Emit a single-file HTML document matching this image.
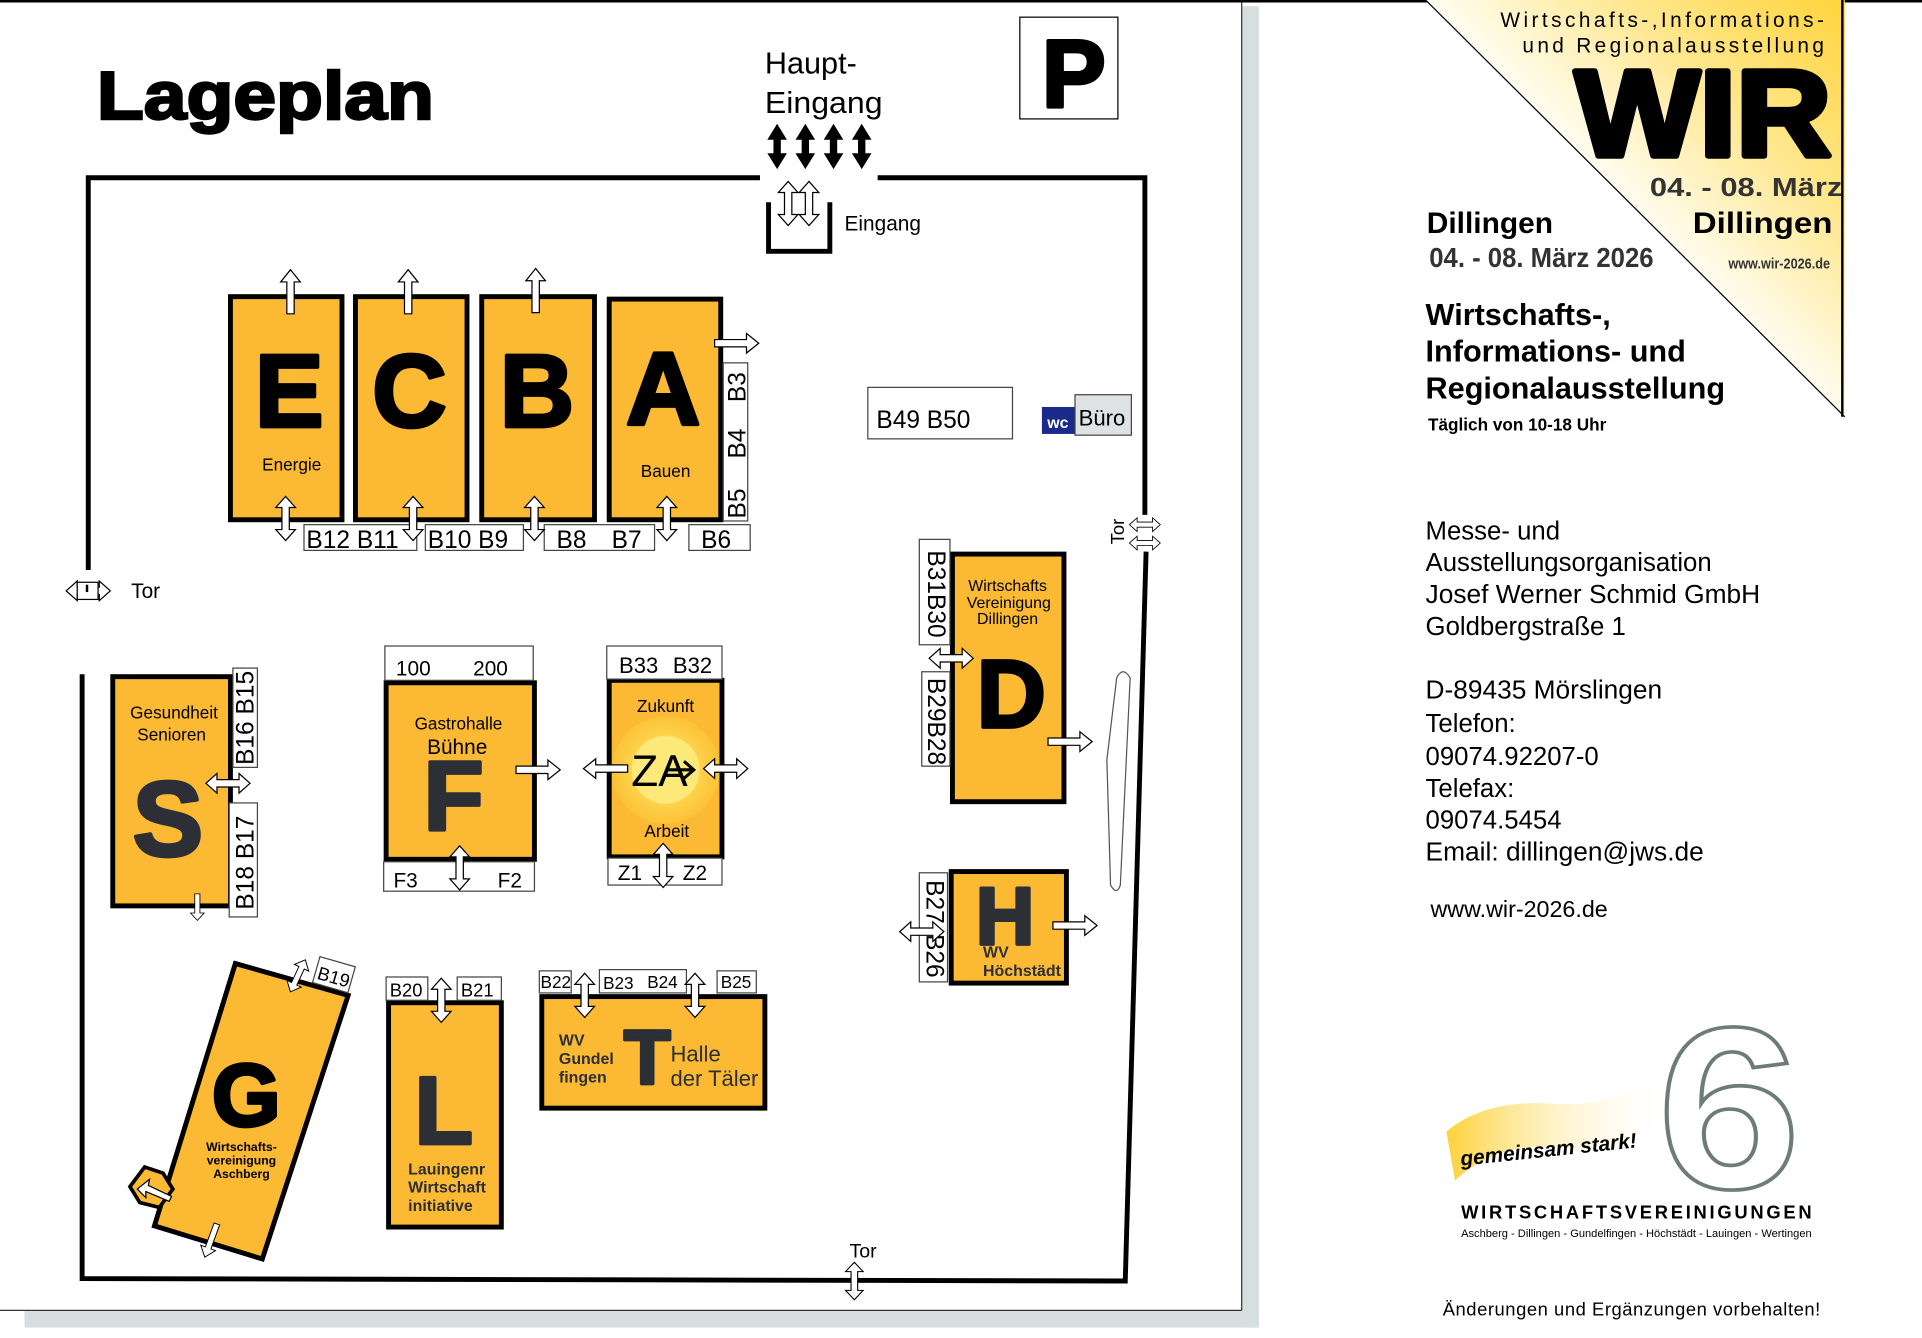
<!DOCTYPE html>
<html><head><meta charset="utf-8"><style>
html,body{margin:0;padding:0;background:#fff;}
svg{display:block;}
text{font-family:"Liberation Sans",Arial,sans-serif;}
.big{stroke-width:3;stroke-linejoin:round;}
</style></head><body>
<svg width="1922" height="1338" viewBox="0 0 1568 1091.5" preserveAspectRatio="none" xmlns="http://www.w3.org/2000/svg">
<defs>
<polygon id="ud" points="0,-18 -8,-9 -3,-9 -3,9 -8,9 0,18 8,9 3,9 3,-9 8,-9" fill="#fff" stroke="#000" stroke-width="1"/>
<polygon id="up" points="0,-18 -8,-8 -3,-8 -3,18 3,18 3,-8 8,-8" fill="#fff" stroke="#000" stroke-width="1"/>
<linearGradient id="tri" x1="1334" y1="170" x2="1505" y2="0" gradientUnits="userSpaceOnUse">
<stop offset="0" stop-color="#fffdf0"/><stop offset="0.5" stop-color="#ffe68a"/><stop offset="1" stop-color="#ffd43c"/></linearGradient>
<linearGradient id="flag" x1="0" y1="0" x2="1" y2="0">
<stop offset="0" stop-color="#fdd23a"/><stop offset="1" stop-color="#fff" stop-opacity="0.2"/></linearGradient>
<radialGradient id="za"><stop offset="0.62" stop-color="#fde87a"/><stop offset="0.64" stop-color="#fdd24a"/><stop offset="1" stop-color="#fcc238"/></radialGradient>
</defs>
<rect width="1568" height="1092" fill="#fff"/>
<rect x="1013" y="5" width="14" height="1078" fill="#d6dede"/>
<rect x="20" y="1069" width="1007" height="14" fill="#d6dede"/>
<line x1="1013" y1="0" x2="1013" y2="1069" stroke="#333" stroke-width="1"/>
<line x1="0" y1="1069" x2="1013" y2="1069" stroke="#333" stroke-width="1"/>
<line x1="0" y1="1" x2="1568" y2="1" stroke="#000" stroke-width="2"/>

<text x="79" y="97" font-size="55" font-weight="bold" stroke="#000" stroke-width="2" textLength="275" lengthAdjust="spacingAndGlyphs">Lageplan</text>
<text x="624" y="60" font-size="25">Haupt-</text>
<text x="624" y="92" font-size="25" textLength="96" lengthAdjust="spacingAndGlyphs">Eingang</text>
<g fill="#000">
<polygon points="634,101 626,114 631,114 631,125 626,125 634,138 642,125 637,125 637,114 642,114"/>
<polygon points="657,101 649,114 654,114 654,125 649,125 657,138 665,125 660,125 660,114 665,114"/>
<polygon points="680,101 672,114 677,114 677,125 672,125 680,138 688,125 683,125 683,114 688,114"/>
<polygon points="703,101 695,114 700,114 700,125 695,125 703,138 711,125 706,125 706,114 711,114"/>
</g>
<rect x="832" y="14" width="80" height="83" fill="#fff" stroke="#000" stroke-width="1"/>
<text x="876" y="87" font-size="78" font-weight="bold" text-anchor="middle" stroke="#000" class="big">P</text>

<g stroke="#000" stroke-width="4" fill="none">
<polyline points="620,145 72,145 72,465"/>
<polyline points="716,145 934,145 934,420"/>
<polyline points="935,450 918,1045 67,1043 67,550"/>
<polyline points="627,165 627,205 677,205 677,165"/>
</g>
<use href="#ud" x="643" y="166"/><use href="#ud" x="660" y="166"/>
<text x="689" y="188" font-size="17">Eingang</text>
<g transform="translate(72,482) rotate(90)"><use href="#ud"/></g>
<rect x="63" y="475" width="17" height="14" fill="#fff" stroke="#000"/>
<line x1="71" y1="477" x2="71" y2="483" stroke="#000" stroke-width="2"/>
<text x="107" y="488" font-size="17">Tor</text>
<g transform="translate(934,428) rotate(90) scale(0.7)"><use href="#ud"/></g>
<g transform="translate(934,443) rotate(90) scale(0.7)"><use href="#ud"/></g>
<text x="917" y="444" font-size="15" transform="rotate(-90 917 444)">Tor</text>
<text x="693" y="1026" font-size="16">Tor</text>
<g transform="translate(697,1045) scale(0.9,0.85)"><use href="#ud"/></g>
<path d="M911,553 Q916,543 922,553 L914,722 Q911,731 906,722 L903,620 Z" fill="#fff" stroke="#555" stroke-width="1"/>

<g fill="#fbb934" stroke="#000" stroke-width="4">
<rect x="188" y="242" width="91" height="182"/>
<rect x="290" y="242" width="91" height="182"/>
<rect x="393" y="242" width="92" height="182"/>
<rect x="497" y="244" width="91" height="180"/>
</g>
<g font-weight="bold" font-size="84" text-anchor="middle" stroke="#000" class="big">
<text x="236" y="348">E</text><text x="334" y="348">C</text><text x="438" y="348">B</text><text x="541" y="346">A</text>
</g>
<text x="238" y="384" font-size="14" text-anchor="middle">Energie</text>
<text x="543" y="389" font-size="14" text-anchor="middle">Bauen</text>
<use href="#up" x="237" y="238"/><use href="#up" x="333" y="238"/><use href="#up" x="437" y="237"/>
<g transform="translate(601,280) rotate(90)"><use href="#up"/></g>
<g fill="#fff" stroke="#444" stroke-width="1">
<rect x="248" y="428" width="92" height="21"/><rect x="347" y="428" width="80" height="21"/>
<rect x="444" y="428" width="90" height="21"/><rect x="562" y="428" width="50" height="21"/>
<rect x="590" y="296" width="20" height="129"/>
</g>
<g font-size="20">
<text x="250" y="447">B12 B11</text><text x="349" y="447">B10 B9</text>
<text x="454" y="447">B8</text><text x="499" y="447">B7</text><text x="572" y="447">B6</text>
<text transform="translate(608,328) rotate(-90)">B3</text>
<text transform="translate(608,374) rotate(-90)">B4</text>
<text transform="translate(608,423) rotate(-90)">B5</text>
</g>
<use href="#ud" x="233" y="423"/><use href="#ud" x="337" y="423"/><use href="#ud" x="436" y="423"/><use href="#ud" x="544" y="423"/>

<rect x="708" y="316" width="118" height="42" fill="#fff" stroke="#444"/>
<text x="715" y="349" font-size="20">B49 B50</text>
<rect x="850" y="332" width="27" height="22" fill="#1a2a8a"/>
<text x="863" y="349" font-size="13" font-weight="bold" fill="#fff" text-anchor="middle">wc</text>
<rect x="877" y="322" width="46" height="33" fill="#dde3e3" stroke="#444"/>
<text x="880" y="347" font-size="18">Büro</text>

<rect x="92" y="552" width="96" height="187" fill="#fbb934" stroke="#000" stroke-width="4"/>
<text x="142" y="586" font-size="14" text-anchor="middle">Gesundheit</text>
<text x="140" y="604" font-size="14" text-anchor="middle">Senioren</text>
<text x="137" y="698" font-size="86" font-weight="bold" fill="#2c2f36" stroke="#2c2f36" class="big" text-anchor="middle">S</text>
<rect x="190" y="545" width="20" height="81" fill="#fff" stroke="#444"/>
<rect x="187" y="655" width="23" height="93" fill="#fff" stroke="#444"/>
<g font-size="20"><text transform="translate(207,624) rotate(-90)">B16 B15</text>
<text transform="translate(207,742) rotate(-90)">B18 B17</text></g>
<g transform="translate(186,639) rotate(90)"><use href="#ud"/></g>
<g transform="translate(161,740) scale(0.7,0.6)"><polygon points="0,18 -8,8 -3,8 -3,-18 3,-18 3,8 8,8" fill="#fff" stroke="#000"/></g>

<rect x="315" y="557" width="121" height="144" fill="#fbb934" stroke="#000" stroke-width="4"/>
<rect x="314" y="527" width="121" height="28" fill="#fff" stroke="#444"/>
<text x="323" y="551" font-size="17">100</text><text x="386" y="551" font-size="17">200</text>
<text x="374" y="595" font-size="14" text-anchor="middle">Gastrohalle</text>
<text x="373" y="615" font-size="17" text-anchor="middle">Bühne</text>
<text x="370" y="677" font-size="80" font-weight="bold" fill="#2c2f36" stroke="#2c2f36" class="big" text-anchor="middle">F</text>
<rect x="313" y="703" width="123" height="24" fill="#fff" stroke="#444"/>
<text x="321" y="724" font-size="17">F3</text><text x="406" y="724" font-size="17">F2</text>
<g transform="translate(439,628) rotate(90)"><use href="#up"/></g>
<use href="#ud" x="375" y="708"/>

<rect x="497" y="555" width="92" height="144" fill="#fbb934" stroke="#000" stroke-width="4"/>
<rect x="495" y="527" width="94" height="27" fill="#fff" stroke="#444"/>
<text x="505" y="549" font-size="18">B33</text><text x="549" y="549" font-size="18">B32</text>
<text x="543" y="581" font-size="14" text-anchor="middle">Zukunft</text>
<text x="544" y="683" font-size="14" text-anchor="middle">Arbeit</text>
<circle cx="543" cy="628" r="44" fill="url(#za)"/>
<text x="538" y="641" font-size="36" text-anchor="middle">ZA</text>
<path d="M545,628 L566,628 M558,621 L566,628 L558,635" stroke="#000" stroke-width="2.5" fill="none"/>
<g transform="translate(494,627) rotate(-90)"><use href="#up"/></g>
<g transform="translate(592,627) rotate(90)"><use href="#ud"/></g>
<rect x="496" y="700" width="93" height="22" fill="#fff" stroke="#444"/>
<text x="504" y="718" font-size="17">Z1</text><text x="557" y="718" font-size="17">Z2</text>
<use href="#ud" x="541" y="706"/>

<rect x="777" y="452" width="91" height="202" fill="#fbb934" stroke="#000" stroke-width="4"/>
<g font-size="13" text-anchor="middle"><text x="822" y="482">Wirtschafts</text><text x="823" y="496">Vereinigung</text><text x="822" y="509">Dillingen</text></g>
<text x="825" y="593" font-size="78" font-weight="bold" stroke="#000" class="big" text-anchor="middle">D</text>
<rect x="750" y="440" width="25" height="86" fill="#fff" stroke="#444"/>
<rect x="752" y="548" width="23" height="77" fill="#fff" stroke="#444"/>
<g font-size="20"><text transform="translate(757,449) rotate(90)">B31B30</text>
<text transform="translate(757,553) rotate(90)">B29B28</text></g>
<g transform="translate(776,537) rotate(90)"><use href="#ud"/></g>
<g transform="translate(873,605) rotate(90)"><use href="#up"/></g>

<rect x="776" y="711" width="94" height="91" fill="#fbb934" stroke="#000" stroke-width="4"/>
<text x="820" y="770" font-size="66" font-weight="bold" fill="#2c2f36" stroke="#2c2f36" class="big" text-anchor="middle">H</text>
<text x="802" y="781" font-size="13" font-weight="bold" fill="#2c2f36">WV</text>
<text x="802" y="796" font-size="13" font-weight="bold" fill="#2c2f36">Höchstädt</text>
<rect x="750" y="712" width="23" height="89" fill="#fff" stroke="#444"/>
<g font-size="20"><text transform="translate(756,718) rotate(90)">B27</text><text transform="translate(756,762) rotate(90)">B26</text></g>
<g transform="translate(752,760) rotate(90)"><use href="#ud"/></g>
<g transform="translate(877,755) rotate(90)"><use href="#up"/></g>

<polygon points="192,786 284,812 214,1027 126,1000" fill="#fbb934" stroke="#000" stroke-width="4"/>
<polygon points="118,952 133,957 141,970 130,985 114,981 106,968" fill="#fbb934" stroke="#000" stroke-width="3"/>
<polygon points="112,970 122,962 121,967 140,976 138,980 119,972 119,977" fill="#fff" stroke="#000" stroke-width="1"/>
<text x="201" y="918" font-size="72" font-weight="bold" stroke="#000" class="big" text-anchor="middle">G</text>
<g font-size="10" font-weight="bold" text-anchor="middle"><text x="197" y="939">Wirtschafts-</text><text x="197" y="950">vereinigung</text><text x="197" y="961">Aschberg</text></g>
<g transform="translate(258,791) rotate(16)"><rect x="0" y="-11" width="30" height="22" fill="#fff" stroke="#444"/><text x="2" y="7" font-size="15">B19</text></g>
<g transform="translate(243,796) rotate(25) scale(0.8)"><use href="#ud"/></g>
<g transform="translate(172,1012) rotate(-160) scale(0.8)"><use href="#up"/></g>

<rect x="317" y="818" width="92" height="183" fill="#fbb934" stroke="#000" stroke-width="4"/>
<rect x="315" y="797" width="34" height="19" fill="#fff" stroke="#444"/>
<rect x="373" y="797" width="36" height="19" fill="#fff" stroke="#444"/>
<text x="318" y="813" font-size="15">B20</text><text x="376" y="813" font-size="15">B21</text>
<use href="#ud" x="360" y="816"/>
<text x="362" y="933" font-size="78" font-weight="bold" fill="#2c2f36" stroke="#2c2f36" class="big" text-anchor="middle">L</text>
<g font-size="13" font-weight="bold" fill="#2c2f36"><text x="333" y="958">Lauingenr</text><text x="333" y="973">Wirtschaft</text><text x="333" y="988">initiative</text></g>

<rect x="442" y="813" width="182" height="91" fill="#fbb934" stroke="#000" stroke-width="4"/>
<rect x="440" y="792" width="26" height="18" fill="#fff" stroke="#444"/>
<rect x="489" y="791" width="71" height="19" fill="#fff" stroke="#444"/>
<rect x="585" y="792" width="32" height="18" fill="#fff" stroke="#444"/>
<g font-size="14"><text x="441" y="806">B22</text><text x="492" y="807">B23</text><text x="528" y="806">B24</text><text x="588" y="806">B25</text></g>
<use href="#ud" x="477" y="812"/><use href="#ud" x="567" y="812"/>
<g font-size="13" font-weight="bold" fill="#2c2f36"><text x="456" y="853">WV</text><text x="456" y="868">Gundel</text><text x="456" y="883">fingen</text></g>
<text x="528" y="884" font-size="62" font-weight="bold" fill="#2c2f36" stroke="#2c2f36" class="big" text-anchor="middle">T</text>
<text x="547" y="866" font-size="18" fill="#2c2f36">Halle</text>
<text x="547" y="886" font-size="18" fill="#2c2f36">der Täler</text>

<polygon points="1163,0 1505,0 1505,340" fill="url(#tri)"/>
<line x1="1163" y1="0" x2="1505" y2="340" stroke="#000" stroke-width="1"/>
<line x1="1503" y1="0" x2="1503" y2="340" stroke="#000" stroke-width="2"/>
<text x="1224" y="22" font-size="17" textLength="264" lengthAdjust="spacing">Wirtschafts-,Informations-</text>
<text x="1242" y="43" font-size="17" textLength="246" lengthAdjust="spacing">und Regionalausstellung</text>
<text x="1285" y="127" font-size="100" font-weight="bold" stroke="#000" stroke-width="5" stroke-linejoin="round" textLength="209" lengthAdjust="spacingAndGlyphs">WIR</text>
<text x="1346" y="160" font-size="21" font-weight="bold" fill="#333" textLength="157" lengthAdjust="spacingAndGlyphs">04. - 08. März</text>
<text x="1381" y="190" font-size="24" font-weight="bold" textLength="114" lengthAdjust="spacingAndGlyphs">Dillingen</text>
<text x="1410" y="219" font-size="12" font-weight="bold" fill="#333" textLength="83" lengthAdjust="spacingAndGlyphs">www.wir-2026.de</text>

<text x="1164" y="190" font-size="24" font-weight="bold" textLength="103" lengthAdjust="spacingAndGlyphs">Dillingen</text>
<text x="1166" y="218" font-size="23" font-weight="bold" fill="#333" textLength="183" lengthAdjust="spacingAndGlyphs">04. - 08. März 2026</text>
<g font-size="25" font-weight="bold"><text x="1163" y="265">Wirtschafts-,</text><text x="1163" y="295">Informations- und</text><text x="1163" y="325">Regionalausstellung</text></g>
<text x="1165" y="351" font-size="14" font-weight="bold">Täglich von 10-18 Uhr</text>
<g font-size="21"><text x="1163" y="440">Messe- und</text><text x="1163" y="466">Ausstellungsorganisation</text>
<text x="1163" y="492" textLength="273" lengthAdjust="spacingAndGlyphs">Josef Werner Schmid GmbH</text><text x="1163" y="518">Goldbergstraße 1</text>
<text x="1163" y="570" textLength="193" lengthAdjust="spacingAndGlyphs">D-89435 Mörslingen</text><text x="1163" y="597">Telefon:</text><text x="1163" y="624">09074.92207-0</text>
<text x="1163" y="650">Telefax:</text><text x="1163" y="676">09074.5454</text><text x="1163" y="702" textLength="227" lengthAdjust="spacingAndGlyphs">Email: dillingen@jws.de</text></g>
<text x="1167" y="748" font-size="19">www.wir-2026.de</text>

<path d="M1180,923 Q1210,898 1260,900 Q1310,905 1350,880 L1352,920 Q1320,940 1270,936 Q1220,932 1187,963 Z" fill="url(#flag)"/>
<text x="1192" y="951" font-size="17" font-weight="bold" font-style="italic" transform="rotate(-6 1192 951)">gemeinsam stark!</text>
<text transform="translate(1352,969) scale(1.12,1)" font-size="188" font-weight="bold" fill="#fff" stroke="#6d7b7b" stroke-width="3">6</text>
<text x="1192" y="994" font-size="15" font-weight="bold" textLength="286" lengthAdjust="spacing">WIRTSCHAFTSVEREINIGUNGEN</text>
<text x="1192" y="1009" font-size="9" textLength="286" lengthAdjust="spacingAndGlyphs">Aschberg - Dillingen - Gundelfingen - Höchstädt - Lauingen - Wertingen</text>
<text x="1177" y="1073" font-size="15" textLength="308" lengthAdjust="spacing">Änderungen und  Ergänzungen vorbehalten!</text>
</svg>
</body></html>
